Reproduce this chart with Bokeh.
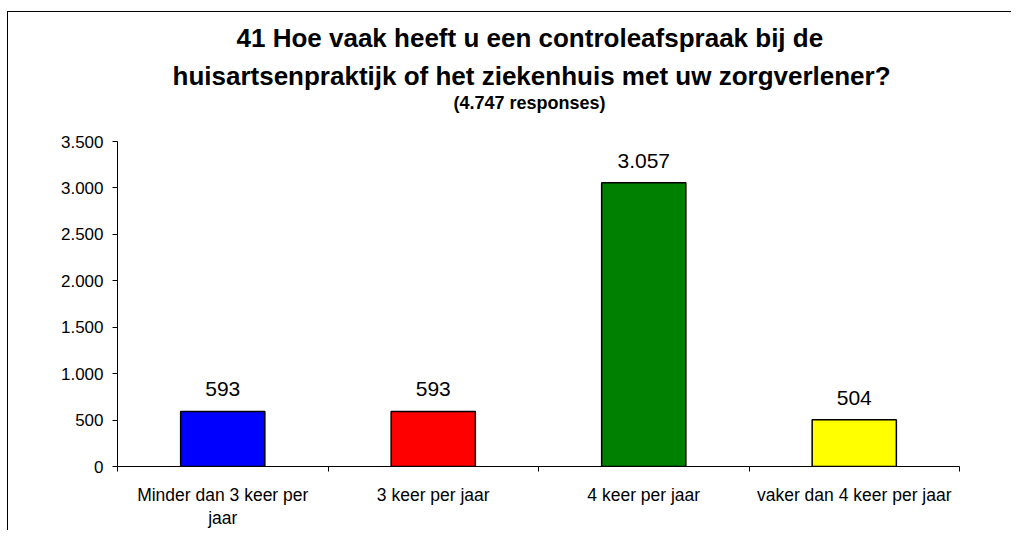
from bokeh.plotting import figure
from bokeh.models import ColumnDataSource, FixedTicker, Title, Range1d
from bokeh.core.properties import value
from bokeh.embed import file_html
from bokeh.resources import INLINE

categories = ["Minder dan 3 keer per\njaar", "3 keer per jaar", "4 keer per jaar", "vaker dan 4 keer per jaar"]
counts = [593, 593, 3057, 504]
colors = ["#0000FF", "#FF0000", "#008000", "#FFFF00"]
y_ticks = [0, 500, 1000, 1500, 2000, 2500, 3000, 3500]
title_line1 = "41 Hoe vaak heeft u een controleafspraak bij de"
title_line2 = "huisartsenpraktijk of het ziekenhuis met uw zorgverlener?"
subtitle = "(4.747 responses)"

FONT = "Liberation Sans"
FRAME_H = 325


def fmt(n):
    return f"{n:,}".replace(",", ".")


xpos = [i + 0.5 for i in range(len(categories))]
bounds = list(range(len(categories) + 1))
src = ColumnDataSource(dict(x=xpos, top=counts, color=colors, label=[fmt(c) for c in counts]))

p = figure(width=1004, height=129 + FRAME_H + 65,
           x_range=Range1d(0, len(categories)), y_range=Range1d(0, y_ticks[-1]),
           output_backend="svg", toolbar_location=None,
           min_border_left=109, min_border_right=53, min_border_top=129, min_border_bottom=65)
p.title = None
p.styles = {"border-top": "1px solid black", "border-left": "1px solid black",
            "margin-left": "7px", "margin-top": "11px"}
p.outline_line_color = None
p.xgrid.visible = False
p.ygrid.visible = False
p.background_fill_color = "white"
p.border_fill_color = "white"

# title panels, stacked upward from the plot frame
p.add_layout(Title(text=" ", text_font=FONT, text_font_size="17px", standoff=8), "above")
p.add_layout(Title(text=subtitle, text_font=FONT, text_font_size="18px", text_font_style="bold",
                   text_color="black", align="left", offset=336, standoff=0), "above")
p.add_layout(Title(text=title_line2, text_font=FONT, text_font_size="26px", text_font_style="bold",
                   text_color="black", align="left", offset=55, standoff=0), "above")
p.add_layout(Title(text=title_line1, text_font=FONT, text_font_size="26px", text_font_style="bold",
                   text_color="black", align="left", offset=119, standoff=12), "above")

p.vbar(x="x", top="top", bottom=0, width=0.4, fill_color="color", line_color="black",
       line_width=1.5, source=src)
p.text(x="x", y="top", text="label", source=src, text_align="center", text_baseline="alphabetic",
       y_offset=-22, text_font=value(FONT), text_font_size="21px", text_color="black")

xa = p.xaxis[0]
xa.ticker = FixedTicker(ticks=xpos, minor_ticks=bounds)
xa.major_label_overrides = {x: c for x, c in zip(xpos, categories)}
xa.major_tick_out = 0
xa.major_tick_in = 0
xa.minor_tick_out = 5
xa.minor_tick_in = 0
xa.minor_tick_line_color = "black"
xa.axis_line_color = "black"
xa.major_label_text_font = FONT
xa.major_label_text_font_size = "17.5px"
xa.major_label_text_line_height = 1.15
xa.major_label_standoff = 13
xa.major_label_text_color = "black"

ya = p.yaxis[0]
ya.ticker = FixedTicker(ticks=y_ticks, minor_ticks=[])
ya.major_label_overrides = {t: fmt(t) for t in y_ticks}
ya.major_tick_out = 5
ya.major_tick_in = 0
ya.axis_line_color = "black"
ya.major_tick_line_color = "black"
ya.major_label_text_font = FONT
ya.major_label_text_font_size = "17px"
ya.major_label_standoff = 9
ya.major_label_text_color = "black"

open("out.html", "w").write(file_html(p, INLINE))
